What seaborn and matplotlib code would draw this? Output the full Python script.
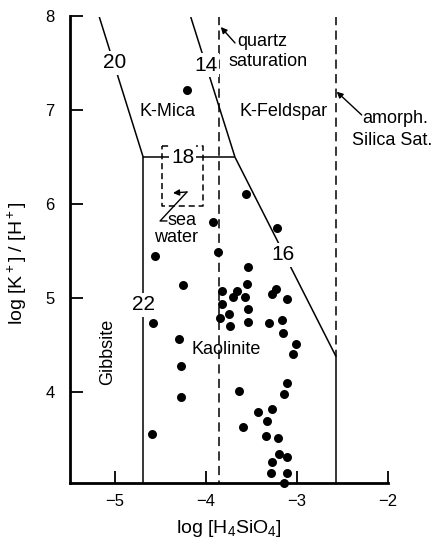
import matplotlib
matplotlib.use("Agg")
import matplotlib.pyplot as plt
import seaborn as sns
import pandas as pd

# ---- data: sample points (log H4SiO4, log K+/H+) ----
log_si = [-4.212, -3.564, -3.920, -3.865, -4.560, -4.249, -4.586, -4.297, -4.280,
          -3.216, -3.535, -3.553, -3.827, -3.663, -3.700, -3.575, -3.236, -3.278,
          -3.107, -3.821, -3.542, -3.744, -3.846, -3.736, -3.542, -3.304, -3.170,
          -3.151, -3.014, -3.041, -4.277, -4.593, -3.641, -3.113, -3.140, -3.432,
          -3.271, -3.333, -3.593, -3.341, -3.205, -3.198, -3.107, -3.271, -3.289,
          -3.107, -3.143]
log_kh = [7.217, 6.110, 5.815, 5.495, 5.449, 5.140, 4.733, 4.562, 4.278,
          5.744, 5.329, 5.151, 5.080, 5.077, 5.008, 5.013, 5.098, 5.042,
          4.995, 4.941, 4.882, 4.826, 4.786, 4.704, 4.747, 4.736, 4.771,
          4.626, 4.512, 4.400, 3.951, 3.554, 4.012, 4.094, 3.978, 3.788,
          3.817, 3.692, 3.631, 3.532, 3.511, 3.338, 3.312, 3.259, 3.135,
          3.135, 3.035]

# ---- stability field boundaries ----
b20_x, b20_y = [-5.173, -4.69], [7.995, 6.5]
b22_x, b22_y = [-4.69, -4.69], [6.5, 3.0]
b18_x, b18_y = [-4.69, -3.681], [6.5, 6.5]
b14_x, b14_y = [-4.168, -3.681], [7.995, 6.5]
b16_x, b16_y = [-3.681, -2.57], [6.5, 4.376]
amorph_solid_x, amorph_solid_y = [-2.57, -2.57], [4.376, 3.0]
quartz_x, quartz_y = [-3.86, -3.86], [8.0, 3.0]
amorph_x, amorph_y = [-2.57, -2.57], [8.0, 4.376]
sea_x = [-4.484, -4.033, -4.033, -4.484, -4.484]
sea_y = [6.621, 6.621, 5.982, 5.982, 6.621]

line_labels = ["20", "14", "18", "16", "22"]
label_x = [-5.0, -4.003, -4.256, -3.155, -4.69]
label_y = [7.505, 7.483, 6.503, 5.46, 4.927]

x_ticks = [-5, -4, -3, -2]
y_ticks = [4, 5, 6, 7, 8]

sns.set_theme(style="ticks")
plt.rcParams["font.family"] = ["Liberation Sans", "DejaVu Sans"]
plt.rcParams["mathtext.fontset"] = "custom"
plt.rcParams["mathtext.rm"] = "Liberation Sans"
plt.rcParams["mathtext.it"] = "Liberation Sans"
plt.rcParams["text.color"] = "black"
plt.rcParams["axes.labelcolor"] = "black"
plt.rcParams["xtick.color"] = "black"
plt.rcParams["ytick.color"] = "black"

fig = plt.figure(figsize=(4.34, 5.41), dpi=100)
ax = fig.add_axes([70 / 434, 58 / 541, 318 / 434, 466.5 / 541])

solid = dict(color="black", lw=1.1, solid_capstyle="butt", zorder=2)
dashed = dict(color="black", lw=1.1, linestyle=(0, (6, 3.5)), zorder=2)

ax.plot(b20_x, b20_y, **solid)
ax.plot(b22_x, b22_y, **solid)
ax.plot(b18_x, b18_y, **solid)
ax.plot(b14_x, b14_y, **solid)
ax.plot(b16_x, b16_y, **solid)
ax.plot(amorph_solid_x, amorph_solid_y, **solid)
ax.plot(quartz_x, quartz_y, **dashed)
ax.plot(amorph_x, amorph_y, **dashed)
ax.plot(sea_x, sea_y, color="black", lw=1.1, linestyle=(0, (4, 2.5)), zorder=2)

df = pd.DataFrame({"si": log_si, "kh": log_kh})
sns.scatterplot(data=df, x="si", y="kh", ax=ax, color="black", s=42,
                edgecolor="black", linewidth=0, zorder=4, clip_on=False)

for t, x, y in zip(line_labels, label_x, label_y):
    ax.text(x, y, t, fontsize=15, ha="center", va="center", zorder=3,
            color="black", bbox=dict(facecolor="white", edgecolor="none", pad=1.5))

fs = 13
ax.text(-4.423, 6.986, "K-Mica", fontsize=fs, ha="center", va="center")
ax.text(-3.151, 6.986, "K-Feldspar", fontsize=fs, ha="center", va="center")
ax.text(-3.773, 4.448, "Kaolinite", fontsize=fs, ha="center", va="center")
ax.text(-5.080, 4.427, "Gibbsite", fontsize=fs, ha="center", va="center", rotation=90)
ax.text(-3.66, 7.732, "quartz", fontsize=fs, ha="left", va="center")
ax.text(-3.758, 7.519, "saturation", fontsize=fs, ha="left", va="center")
ax.text(-2.278, 6.916, "amorph.", fontsize=fs, ha="left", va="center", clip_on=False)
ax.text(-2.399, 6.684, "Silica Sat.", fontsize=fs, ha="left", va="center", clip_on=False)
ax.text(-4.264, 5.832, "sea", fontsize=fs, ha="center", va="center")
ax.text(-4.33, 5.651, "water", fontsize=fs, ha="center", va="center")

arrow = dict(arrowstyle="-|>", lw=1.0, color="black", mutation_scale=9,
             shrinkA=0, shrinkB=0)
ax.annotate("", xy=(-3.838, 7.888), xytext=(-3.681, 7.718), arrowprops=arrow)
ax.annotate("", xy=(-2.564, 7.199), xytext=(-2.289, 6.951), arrowprops=arrow)
ax.plot([-4.429, -4.505, -4.209], [5.822, 5.822, 6.131], color="black", lw=1.0)
ax.annotate("", xy=(-4.363, 6.12), xytext=(-4.209, 6.131), arrowprops=arrow)

ax.set_xlim(-5.495, -2.0)
ax.set_ylim(3.031, 8.0)
ax.set_xticks(x_ticks)
ax.set_yticks(y_ticks)
ax.tick_params(direction="in", length=9, width=1.3, labelsize=12, colors="black")
ax.tick_params(axis="y", pad=11)
ax.tick_params(axis="x", pad=8)
sns.despine(ax=ax)
for side in ("left", "bottom"):
    ax.spines[side].set_linewidth(2.0)
    ax.spines[side].set_color("black")

ax.set_xlabel(r"log [H$_4$SiO$_4$]", fontsize=14, color="black")
ax.set_ylabel(r"log [K$^+$] / [H$^+$]", fontsize=14, color="black")
ax.xaxis.set_label_coords(0.5, -0.075)
ax.xaxis.label.set_va("top")
ax.yaxis.set_label_coords(-0.13, 0.47)

fig.savefig("out.png", dpi=100)
